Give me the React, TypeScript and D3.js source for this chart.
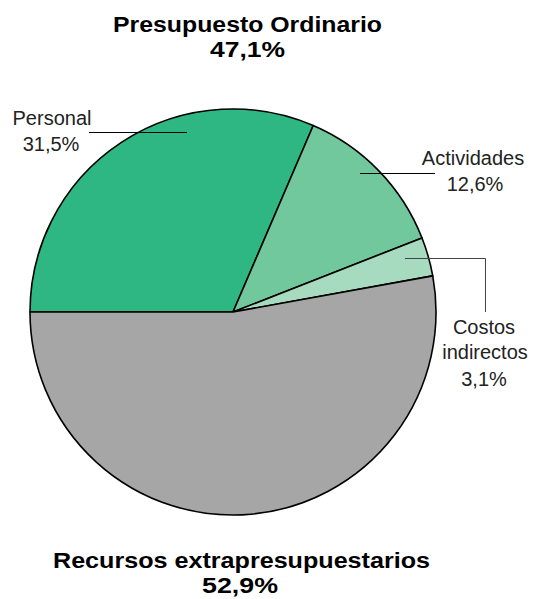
import React from "react";
import * as d3 from "d3";

const categories = ["Personal", "Actividades", "Costos indirectos", "Recursos extrapresupuestarios"];
const values = [31.5, 12.6, 3.1, 52.9];
const valueLabels = ["31,5%", "12,6%", "3,1%", "52,9%"];
const colors = ["#2eb782", "#72c89d", "#a7dbbf", "#a6a6a6"];
const groupTitles = ["Presupuesto Ordinario", "Recursos extrapresupuestarios"];
const groupValues = ["47,1%", "52,9%"];

export default function App() {
  const W = 534, H = 599;
  const cx = 233, cy = 312, r = 203;
  const pie = d3.pie<number>().sort(null).value((d) => d)
    .startAngle(-Math.PI / 2).endAngle((3 * Math.PI) / 2);
  const arcs = pie(values);
  const arc = d3.arc<d3.PieArcDatum<number>>().innerRadius(0).outerRadius(r);
  const lab = { fontFamily: "'Liberation Sans', Arial, sans-serif", fontSize: 20, fill: "#222" } as const;
  const bold = { fontFamily: "'Liberation Sans', Arial, sans-serif", fontSize: 21.5, fontWeight: 700, fill: "#000", lengthAdjust: "spacingAndGlyphs" } as const;
  return (
    <svg width={W} height={H} style={{ position: "absolute", left: 0, top: 0 }}>
      <rect width={W} height={H} fill="#fff" />
      <g transform={`translate(${cx},${cy})`}>
        {arcs.map((a, i) => (
          <path key={i} d={arc(a) || ""} fill={colors[i]} stroke="#000" strokeWidth={1.6} strokeLinejoin="round" />
        ))}
      </g>
      {/* leader lines */}
      <line x1={89} y1={132.5} x2={187} y2={132.5} stroke="#000" strokeWidth={1} />
      <line x1={360} y1={173.5} x2={435} y2={173.5} stroke="#000" strokeWidth={1} />
      <polyline points="405,258.5 485.5,258.5 485.5,312" fill="none" stroke="#444" strokeWidth={1} />
      {/* labels */}
      <text {...lab} textAnchor="middle" x={52} y={125}>{categories[0]}</text>
      <text {...lab} textAnchor="middle" x={51} y={151}>{valueLabels[0]}</text>
      <text {...lab} textAnchor="middle" x={473} y={165}>{categories[1]}</text>
      <text {...lab} textAnchor="middle" x={475} y={191}>{valueLabels[1]}</text>
      <text {...lab} textAnchor="middle" x={484} y={334}>Costos</text>
      <text {...lab} textAnchor="middle" x={485} y={359}>indirectos</text>
      <text {...lab} textAnchor="middle" x={484} y={386}>{valueLabels[2]}</text>
      {/* group titles */}
      <text {...bold} textAnchor="middle" x={247.5} y={32} textLength={269}>{groupTitles[0]}</text>
      <text {...bold} textAnchor="middle" x={247.5} y={57} textLength={75}>{groupValues[0]}</text>
      <text {...bold} textAnchor="middle" x={241.5} y={568} textLength={377}>{groupTitles[1]}</text>
      <text {...bold} textAnchor="middle" x={240} y={593} textLength={76}>{groupValues[1]}</text>
    </svg>
  );
}
